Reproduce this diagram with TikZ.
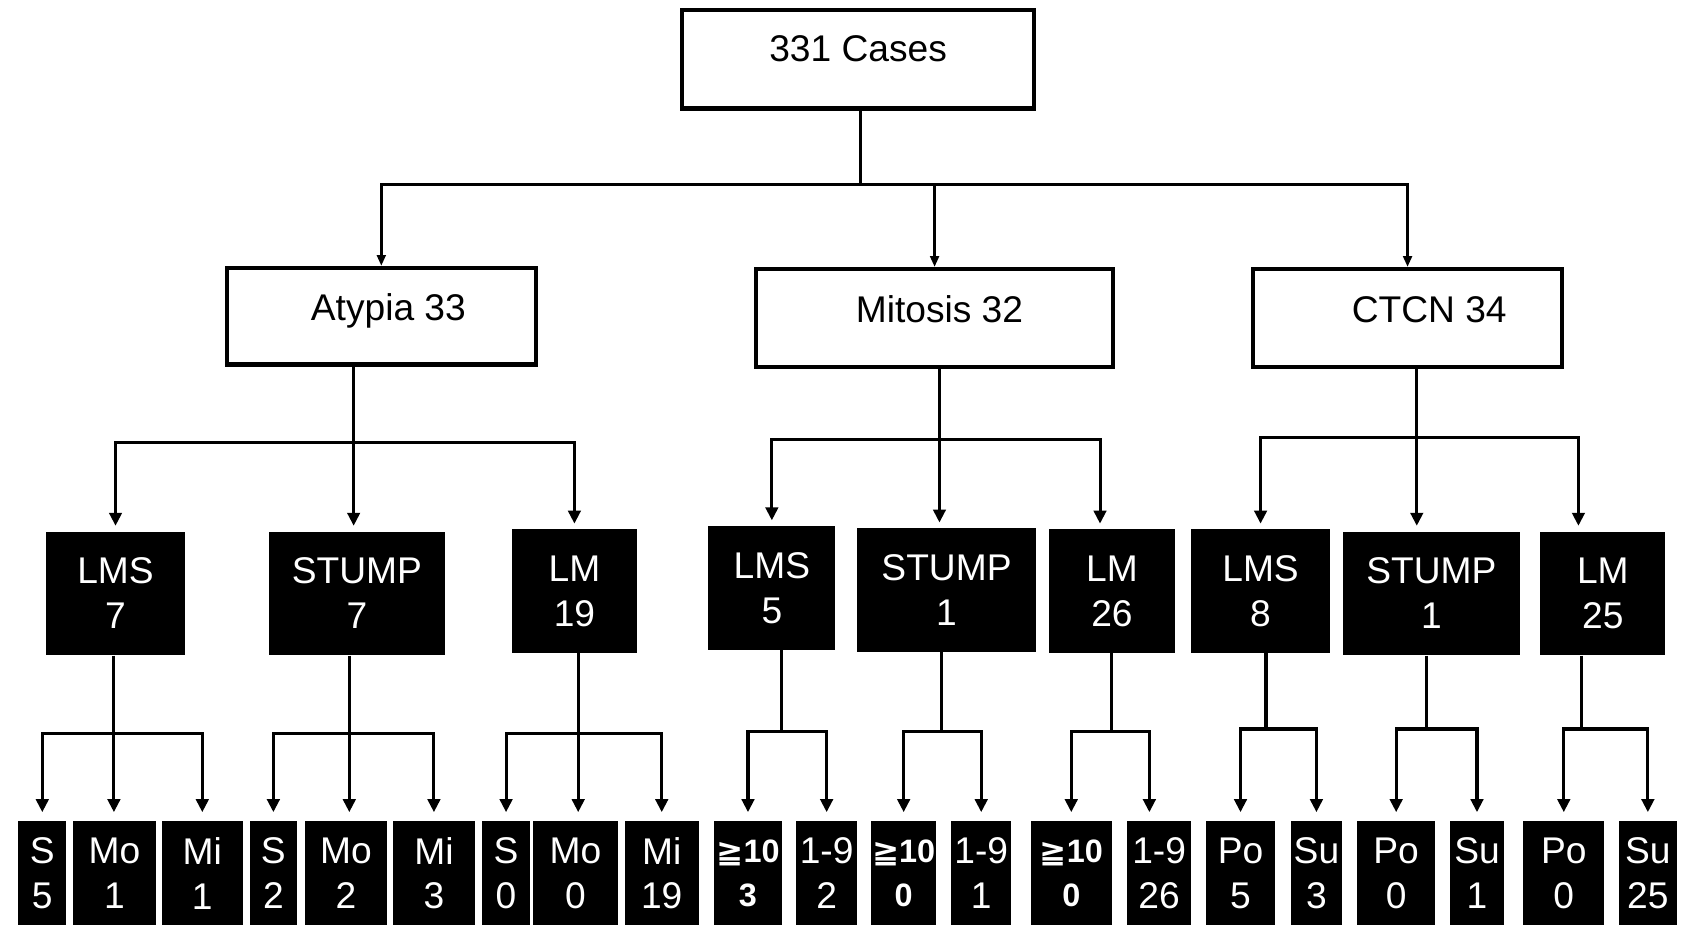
\documentclass[tikz,border=0pt]{standalone}
\usepackage{fontspec}
\setmainfont{Liberation Sans}
\newfontfamily\geqfont{DejaVu Sans}
\usetikzlibrary{arrows.meta}

\begin{document}
\begin{tikzpicture}[x=0.02cm,y=-0.02cm,
    hdr/.style={draw,line width=2.2pt,fill=white,inner sep=0pt,text height=0.5cm,text depth=0.32cm,font=\fontsize{19.5}{23.5}\selectfont},
    cat/.style={fill=black,text=white,inner sep=0pt,minimum height=2.28cm,align=center,font=\fontsize{19.5}{23.5}\selectfont},
    leaf/.style={fill=black,text=white,inner sep=0pt,minimum height=1.92cm,align=center,font=\fontsize{19.5}{23.5}\selectfont},
    geq/.style={leaf,font=\fontsize{17}{23.5}\selectfont\bfseries},
    conn/.style={line width=1.6pt},
    arrtop/.style={conn,-{Triangle[length=0.2cm,width=0.16cm]}},
    arr/.style={conn,-{Triangle[length=0.24cm,width=0.23cm]}}]
  \useasboundingbox (0,0) rectangle (1568,862);

  % first two levels
  \node[hdr,minimum width=6.48cm,minimum height=1.82cm,text depth=0.4cm] (top) at (791,54.5) {331 Cases};
  \node[hdr,minimum width=5.70cm,minimum height=1.78cm,text depth=0.35cm] (atypia) at (351.5,291.5) {\hspace*{0.26cm}Atypia 33};
  \node[hdr,minimum width=6.58cm,minimum height=1.80cm] (mitosis) at (861.5,293) {\hspace*{0.18cm}Mitosis 32};
  \node[hdr,minimum width=5.70cm,minimum height=1.80cm] (ctcn) at (1297.5,293) {\hspace*{0.8cm}CTCN 34};

  % diagnoses
  \node[cat,minimum width=2.58cm] (a-lms) at (106.5,547) {LMS\\7};
  \node[cat,minimum width=3.24cm] (a-stump) at (329,547) {STUMP\\7};
  \node[cat,minimum width=2.30cm] (a-lm) at (529.5,545) {LM\\19};
  \node[cat,minimum width=2.34cm] (m-lms) at (711.5,542) {LMS\\5};
  \node[cat,minimum width=3.30cm] (m-stump) at (872.5,544) {STUMP\\1};
  \node[cat,minimum width=2.32cm] (m-lm) at (1025,545) {LM\\26};
  \node[cat,minimum width=2.56cm] (c-lms) at (1162,545) {LMS\\8};
  \node[cat,minimum width=3.26cm] (c-stump) at (1319.5,547) {STUMP\\1};
  \node[cat,minimum width=2.30cm] (c-lm) at (1477.5,547) {LM\\25};

  % bottom row
  \node[leaf,minimum width=0.88cm] (a-lms-s) at (39,805) {S\\5};
  \node[leaf,minimum width=1.54cm] (a-lms-mo) at (105.5,805) {Mo\\1};
  \node[leaf,minimum width=1.50cm] (a-lms-mi) at (186.5,805) {Mi\\1};
  \node[leaf,minimum width=0.88cm] (a-stump-s) at (252,805) {S\\2};
  \node[leaf,minimum width=1.52cm] (a-stump-mo) at (319,805) {Mo\\2};
  \node[leaf,minimum width=1.52cm] (a-stump-mi) at (400,805) {Mi\\3};
  \node[leaf,minimum width=0.90cm] (a-lm-s) at (466.5,805) {S\\0};
  \node[leaf,minimum width=1.58cm] (a-lm-mo) at (530.5,805) {Mo\\0};
  \node[leaf,minimum width=1.36cm] (a-lm-mi) at (610,805) {Mi\\19};
  \node[geq,minimum width=1.26cm] (m-lms-hi) at (689.5,805) {{\geqfont ≧}10\\3};
  \node[leaf,minimum width=1.12cm] (m-lms-lo) at (762,805) {1-9\\2};
  \node[geq,minimum width=1.20cm] (m-stump-hi) at (833,805) {{\geqfont ≧}10\\0};
  \node[leaf,minimum width=1.10cm] (m-stump-lo) at (904.5,805) {1-9\\1};
  \node[geq,minimum width=1.50cm] (m-lm-hi) at (987.5,805) {{\geqfont ≧}10\\0};
  \node[leaf,minimum width=1.18cm] (m-lm-lo) at (1068.5,805) {1-9\\26};
  \node[leaf,minimum width=1.26cm] (c-lms-po) at (1143.5,805) {Po\\5};
  \node[leaf,minimum width=0.94cm] (c-lms-su) at (1213.5,805) {Su\\3};
  \node[leaf,minimum width=1.44cm] (c-stump-po) at (1287,805) {Po\\0};
  \node[leaf,minimum width=0.98cm] (c-stump-su) at (1361.5,805) {Su\\1};
  \node[leaf,minimum width=1.50cm] (c-lm-po) at (1441.5,805) {Po\\0};
  \node[leaf,minimum width=1.08cm] (c-lm-su) at (1519,805) {Su\\25};

  % branch points
  \coordinate (j0) at (793,170);
  \coordinate (ja) at (326,408);
  \coordinate (jm) at (866,405);
  \coordinate (jc) at (1306,403);
  \coordinate (ja1) at (105,676);
  \coordinate (ja2) at (322,676);
  \coordinate (ja3) at (533,676);
  \coordinate (jm1) at (720,674);
  \coordinate (jm2) at (868,674);
  \coordinate (jm3) at (1025,674);
  \coordinate (jc1) at (1167,672);
  \coordinate (jc2) at (1315,672);
  \coordinate (jc3) at (1458,672);

  % cases -> criteria
  \draw[conn] (top.south -| j0) -- (j0);
  \draw[arrtop] (j0) -| (atypia.north);
  \draw[arrtop] (j0) -| (mitosis.north);
  \draw[arrtop] (j0) -| (ctcn.north);

  % criteria -> diagnoses
  \draw[conn] (atypia.south -| ja) -- (ja);
  \draw[arr,shorten >=0.1cm] (ja) -| (a-lms.north);
  \draw[arr,shorten >=0.1cm] (ja) -- (ja |- a-stump.north);
  \draw[arr,shorten >=0.1cm] (ja) -| (a-lm.north);
  \draw[conn] (mitosis.south -| jm) -- (jm);
  \draw[arr,shorten >=0.1cm] (jm) -| (m-lms.north);
  \draw[arr,shorten >=0.1cm] (jm) -- (jm |- m-stump.north);
  \draw[arr,shorten >=0.1cm] (jm) -| ([xshift=-0.22cm]m-lm.north);
  \draw[conn] (ctcn.south -| jc) -- (jc);
  \draw[arr,shorten >=0.1cm] (jc) -| (c-lms.north);
  \draw[arr,shorten >=0.1cm] (jc) -- (jc |- c-stump.north);
  \draw[arr,shorten >=0.1cm] (jc) -| ([xshift=-0.45cm]c-lm.north);

  % diagnoses -> subgroups
  \draw[conn] (a-lms.south -| ja1) -- (ja1);
  \draw[arr,shorten >=0.16cm] (ja1) -| (a-lms-s.north);
  \draw[arr,shorten >=0.16cm] (ja1) -- (ja1 |- a-lms-mo.north);
  \draw[arr,shorten >=0.16cm] (ja1) -| (a-lms-mi.north);
  \draw[conn] (a-stump.south -| ja2) -- (ja2);
  \draw[arr,shorten >=0.16cm] (ja2) -| (a-stump-s.north);
  \draw[arr,shorten >=0.16cm] (ja2) -- (ja2 |- a-stump-mo.north);
  \draw[arr,shorten >=0.16cm] (ja2) -| (a-stump-mi.north);
  \draw[conn] (a-lm.south -| ja3) -- (ja3);
  \draw[arr,shorten >=0.16cm] (ja3) -| (a-lm-s.north);
  \draw[arr,shorten >=0.16cm] (ja3) -- (ja3 |- a-lm-mo.north);
  \draw[arr,shorten >=0.16cm] (ja3) -| (a-lm-mi.north);
  \draw[conn] (m-lms.south -| jm1) -- (jm1);
  \draw[arr,shorten >=0.16cm] (jm1) -| (m-lms-hi.north);
  \draw[arr,shorten >=0.16cm] (jm1) -| (m-lms-lo.north);
  \draw[conn] (m-stump.south -| jm2) -- (jm2);
  \draw[arr,shorten >=0.16cm] (jm2) -| (m-stump-hi.north);
  \draw[arr,shorten >=0.16cm] (jm2) -| (m-stump-lo.north);
  \draw[conn] (m-lm.south -| jm3) -- (jm3);
  \draw[arr,shorten >=0.16cm] (jm3) -| (m-lm-hi.north);
  \draw[arr,shorten >=0.16cm] (jm3) -| ([xshift=-0.18cm]m-lm-lo.north);
  \draw[conn] (c-lms.south -| jc1) -- (jc1);
  \draw[arr,shorten >=0.16cm] (jc1) -| (c-lms-po.north);
  \draw[arr,shorten >=0.16cm] (jc1) -| (c-lms-su.north);
  \draw[conn] (c-stump.south -| jc2) -- (jc2);
  \draw[arr,shorten >=0.16cm] (jc2) -| (c-stump-po.north);
  \draw[arr,shorten >=0.16cm] (jc2) -| (c-stump-su.north);
  \draw[conn] (c-lm.south -| jc3) -- (jc3);
  \draw[arr,shorten >=0.16cm] (jc3) -| (c-lm-po.north);
  \draw[arr,shorten >=0.16cm] (jc3) -| (c-lm-su.north);
\end{tikzpicture}
\end{document}
